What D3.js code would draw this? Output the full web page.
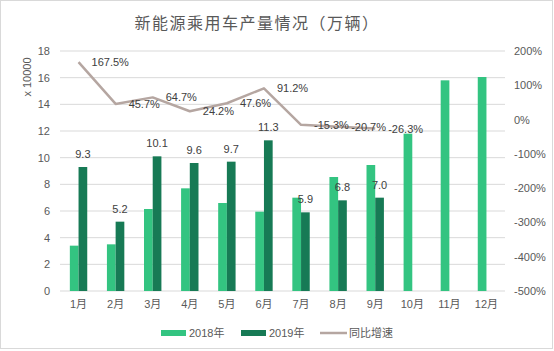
<!DOCTYPE html>
<html>
<head>
<meta charset="utf-8">
<script src="https://cdn.jsdelivr.net/npm/d3@7"></script>
<style>
  body { margin: 0; background: #fff; }
  svg text { font-family: "Liberation Sans", "Noto Sans CJK SC", sans-serif; }
</style>
</head>
<body>
<div id="chart"></div>
<script>
// chart data
const months = ["1月", "2月", "3月", "4月", "5月", "6月", "7月", "8月", "9月", "10月", "11月", "12月"];
const output2018 = [3.4, 3.5, 6.15, 7.7, 6.6, 5.95, 7.0, 8.55, 9.45, 11.8, 15.8, 16.05];
const output2019 = [9.3, 5.2, 10.1, 9.6, 9.7, 11.3, 5.9, 6.8, 7.0];
const growth = [167.5, 45.7, 64.7, 24.2, 47.6, 91.2, -15.3, -20.7, -26.3];
const leftTicks = [0, 2, 4, 6, 8, 10, 12, 14, 16, 18];
const rightTicks = [-500, -400, -300, -200, -100, 0, 100, 200];

const W = 554, H = 351;
const margin = {top: 51, right: 49, bottom: 60, left: 60};
const innerW = W - margin.left - margin.right;
const innerH = H - margin.top - margin.bottom;

const c2018 = "#33c481";
const c2019 = "#177a55";
const cLine = "#b5a6a1";
const textCol = "#595959";

const svg = d3.select("#chart").append("svg")
    .attr("width", W)
    .attr("height", H);

// outer frame
svg.append("rect")
    .attr("x", 0.5).attr("y", 0.5)
    .attr("width", W - 2).attr("height", H - 3)
    .attr("fill", "#fff")
    .attr("stroke", "#d9d9d9");

svg.append("text")
    .attr("x", 257).attr("y", 29)
    .attr("text-anchor", "middle")
    .attr("fill", textCol)
    .style("font-family", "'Noto Sans CJK SC', sans-serif")
    .style("font-size", "16px")
    .style("letter-spacing", "1.5px")
    .text("新能源乘用车产量情况（万辆）");

const g = svg.append("g").attr("transform", `translate(${margin.left},${margin.top})`);

const x0 = d3.scaleBand().domain(months).range([0, innerW]);
const x1 = d3.scaleBand().domain(["2018", "2019"])
    .range([x0.bandwidth() / 2 - 8.7, x0.bandwidth() / 2 + 8.7]);

const yL = d3.scaleLinear().domain([0, 18]).range([innerH, 0]);
const yR = d3.scaleLinear().domain([-500, 200]).range([innerH, 0]);

// gridlines
g.append("g")
    .selectAll("line")
    .data(leftTicks)
    .enter().append("line")
    .attr("x1", 0).attr("x2", innerW)
    .attr("y1", d => yL(d)).attr("y2", d => yL(d))
    .attr("stroke", "#d9d9d9");

// left axis
const axL = g.append("g")
    .call(d3.axisLeft(yL).tickValues(leftTicks).tickSize(0).tickPadding(10));
axL.select(".domain").remove();
axL.selectAll("text").attr("fill", textCol).style("font-size", "11px");

// right axis
const axR = g.append("g")
    .attr("transform", `translate(${innerW},0)`)
    .call(d3.axisRight(yR).tickValues(rightTicks).tickSize(0).tickPadding(9).tickFormat(d => d + "%"));
axR.select(".domain").remove();
axR.selectAll("text").attr("fill", textCol).style("font-size", "11px");

// x axis
const axX = g.append("g")
    .attr("transform", `translate(0,${innerH})`)
    .call(d3.axisBottom(x0).tickSize(0).tickPadding(9));
axX.select(".domain").remove();
axX.selectAll("text").attr("fill", textCol).style("font-size", "11px");

svg.append("text")
    .attr("transform", "translate(31,77) rotate(-90)")
    .attr("text-anchor", "middle")
    .attr("fill", textCol)
    .style("font-size", "11px")
    .text("x 10000");

// bars
g.append("g")
    .selectAll("rect")
    .data(output2018)
    .enter().append("rect")
    .attr("x", (d, i) => x0(months[i]) + x1("2018"))
    .attr("width", x1.bandwidth())
    .attr("y", d => yL(d))
    .attr("height", d => innerH - yL(d))
    .attr("fill", c2018);

g.append("g")
    .selectAll("rect")
    .data(output2019)
    .enter().append("rect")
    .attr("x", (d, i) => x0(months[i]) + x1("2019"))
    .attr("width", x1.bandwidth())
    .attr("y", d => yL(d))
    .attr("height", d => innerH - yL(d))
    .attr("fill", c2019);

// growth line
const line = d3.line()
    .x((d, i) => x0(months[i]) + x0.bandwidth() / 2)
    .y(d => yR(d));

g.append("path")
    .datum(growth)
    .attr("d", line)
    .attr("fill", "none")
    .attr("stroke", cLine)
    .attr("stroke-width", 2.5)
    .attr("stroke-linejoin", "round");

// labels for 2019 bars
g.append("g")
    .selectAll("text")
    .data(output2019)
    .enter().append("text")
    .attr("x", (d, i) => x0(months[i]) + x1("2019") + x1.bandwidth() / 2)
    .attr("y", d => yL(d) - 9)
    .attr("text-anchor", "middle")
    .attr("fill", "#404040")
    .style("font-size", "11px")
    .text(d => d.toFixed(1));

// labels for growth
g.append("g")
    .selectAll("text")
    .data(growth)
    .enter().append("text")
    .attr("x", (d, i) => x0(months[i]) + x0.bandwidth() / 2 + 13)
    .attr("y", d => yR(d) + 4)
    .attr("fill", "#404040")
    .style("font-size", "11px")
    .text(d => d.toFixed(1) + "%");

// legend
const legend = svg.append("g").attr("transform", "translate(0,333)");
const items = [
    {name: "2018年", color: c2018, x: 161, type: "bar"},
    {name: "2019年", color: c2019, x: 241, type: "bar"},
    {name: "同比增速", color: cLine, x: 320, type: "line"}
];
items.forEach(it => {
    if (it.type === "bar") {
        legend.append("rect")
            .attr("x", it.x).attr("y", -3)
            .attr("width", 25).attr("height", 6)
            .attr("fill", it.color);
    } else {
        legend.append("line")
            .attr("x1", it.x).attr("x2", it.x + 27)
            .attr("y1", 0).attr("y2", 0)
            .attr("stroke", it.color)
            .attr("stroke-width", 2.5);
    }
    legend.append("text")
        .attr("x", it.x + (it.type === "bar" ? 28 : 29))
        .attr("y", 4)
        .attr("fill", textCol)
        .style("font-size", "11px")
        .text(it.name);
});
</script>
</body>
</html>
